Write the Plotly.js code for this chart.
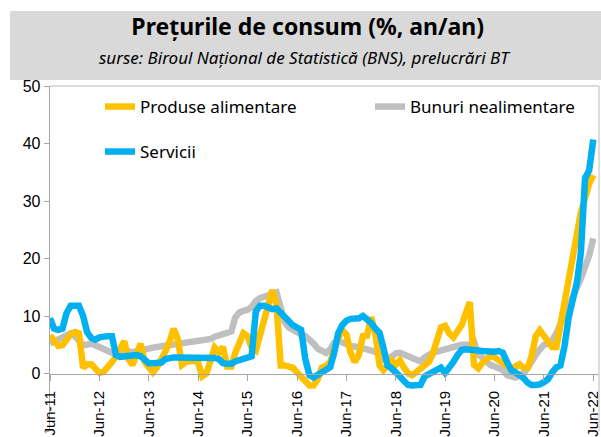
<!DOCTYPE html>
<html><head><meta charset="utf-8">
<script src="https://cdn.plot.ly/plotly-3.0.1.min.js"></script>
<style>html,body{margin:0;padding:0;background:#fff}#chart{width:601px;height:437px}</style>
</head><body><div id="chart"></div>
<script>
// Monthly year-on-year consumer price changes (%), Jun-2011 .. Jun-2022
const firstYear = 2011, firstMonthIndex = 5; // June
const food = [6.6,5.5,4.8,4.9,5.8,6.8,7.2,7.0,1.0,1.6,1.6,0.8,
  0.1,0.3,1.0,2.0,3.0,4.4,5.6,2.5,1.5,3.2,5.2,2.0,
  1.2,0.2,1.1,2.3,3.8,5.5,7.8,6.0,1.5,2.0,2.3,2.3,
  1.8,-0.5,0.0,2.5,4.5,3.7,4.6,1.2,1.2,3.5,5.5,7.0,
  6.5,4.5,4.0,6.8,9.2,12.0,14.5,12.0,1.4,1.4,1.3,1.0,
  0.2,-0.5,-1.2,-2.1,-2.1,-1.0,1.0,1.3,2.0,4.5,6.2,7.5,
  6.8,3.7,2.0,3.2,6.5,6.6,9.8,7.0,1.4,0.6,1.5,2.3,
  1.5,2.3,1.0,0.0,-0.3,0.2,0.9,1.5,2.0,3.4,6.0,8.0,
  8.3,7.0,6.3,7.2,8.4,10.5,12.4,1.5,0.9,1.8,2.5,3.1,
  2.8,2.3,1.8,1.1,0.8,1.2,1.6,1.0,1.0,3.0,6.5,7.5,
  6.5,5.2,4.6,4.6,8.5,13.0,16.5,20.0,23.5,28.0,30.5,33.0,
  34.5];
const nonFood = [5.2,5.6,6.0,6.4,6.8,7.0,6.5,5.6,5.0,5.0,5.2,4.9,
  4.5,4.2,3.8,3.6,3.5,3.6,3.8,3.8,3.7,3.9,4.1,4.3,
  4.4,4.5,4.6,4.7,4.8,4.9,5.0,5.1,5.2,5.3,5.4,5.5,
  5.6,5.7,5.8,6.0,6.4,6.6,6.7,6.9,7.3,9.7,10.6,10.9,
  11.1,11.6,12.6,13.1,13.3,13.7,14.0,14.1,11.5,9.0,8.0,7.5,
  7.0,6.8,6.5,6.0,5.2,4.3,3.8,3.6,4.2,5.3,5.7,5.3,
  5.0,4.8,4.7,4.6,4.4,4.2,4.0,3.8,3.5,2.5,2.7,2.9,
  3.5,3.6,3.3,3.0,2.8,2.4,2.1,2.8,3.3,3.6,3.8,4.0,
  4.3,4.5,4.7,4.9,5.0,5.0,5.0,5.5,3.3,2.8,2.0,1.5,
  1.2,0.8,0.6,-0.3,-0.5,-0.7,-0.3,0.0,1.0,2.3,3.2,4.2,
  5.0,5.2,5.8,7.0,8.7,10.3,11.8,13.2,15.0,16.5,18.5,20.5,
  23.5];
const services = [9.6,7.8,7.6,7.8,10.5,11.8,11.8,11.8,10.0,7.2,6.2,5.9,
  6.3,6.5,6.5,6.5,3.2,2.9,3.0,3.1,3.2,3.2,3.0,2.2,
  1.8,1.8,1.8,1.9,2.5,2.8,2.8,2.8,2.8,2.8,2.8,2.8,
  2.8,2.8,2.8,2.8,2.7,2.5,1.8,1.7,1.7,2.1,2.4,2.6,
  2.7,3.0,10.8,11.8,11.8,11.5,11.2,11.3,10.5,10.0,9.0,8.4,
  8.0,7.6,2.5,-0.3,-0.7,-0.3,0.2,0.8,1.1,3.5,7.0,8.4,
  9.2,9.5,9.5,9.6,10.0,9.5,8.8,7.8,7.1,4.5,1.4,0.9,
  0.3,-0.5,-1.3,-2.0,-2.1,-2.1,-2.0,-0.5,-0.1,0.2,0.6,1.0,
  0.1,0.9,2.0,3.2,4.1,4.2,4.2,4.1,4.0,3.9,3.8,3.8,
  3.8,3.9,3.6,2.0,0.6,0.2,-0.2,-0.8,-1.6,-2.0,-2.0,-1.9,
  -1.5,-1.0,0.2,1.1,1.4,4.9,9.8,12.5,16.0,21.0,34.0,35.3,
  40.7];
const seriesNames = ['Produse alimentare', 'Bunuri nealimentare', 'Servicii'];
const yTickValues = [-10, 0, 10, 20, 30, 40, 50];
const xTickValues = ['2011-06-01','2012-06-01','2013-06-01','2014-06-01','2015-06-01','2016-06-01',
  '2017-06-01','2018-06-01','2019-06-01','2020-06-01','2021-06-01','2022-06-01'];
const xTickLabels = ['Jun-11','Jun-12','Jun-13','Jun-14','Jun-15','Jun-16',
  'Jun-17','Jun-18','Jun-19','Jun-20','Jun-21','Jun-22'];
const titleText = 'Prețurile de consum (%, an/an)';
const subtitleText = 'surse: Biroul Național de Statistică (BNS), prelucrări BT';

const months = food.map((_, i) => {
  const d = new Date(Date.UTC(firstYear, firstMonthIndex + i, 1));
  return d.toISOString().slice(0, 10);
});

const COL = {food: '#FFC000', nonFood: '#BFBFBF', services: '#00B0F0'};
const LW = 6.5;
const traces = [
  {x: months, y: nonFood, name: seriesNames[1], type: 'scatter', mode: 'lines',
   line: {color: COL.nonFood, width: LW}, legend: 'legend2'},
  {x: months, y: food, name: seriesNames[0], type: 'scatter', mode: 'lines',
   line: {color: COL.food, width: LW}, legend: 'legend'},
  {x: months, y: services, name: seriesNames[2], type: 'scatter', mode: 'lines',
   line: {color: COL.services, width: LW}, legend: 'legend3'}
];

const yTickFont = {family: 'Liberation Sans, Arial, sans-serif', size: 16, color: '#000'};
const xTickFont = {family: 'Liberation Sans, Arial, sans-serif', size: 15, color: '#000'};
const legFont = {family: 'Noto Sans, sans-serif', size: 17, color: '#000'};
const legBase = {xanchor: 'left', yanchor: 'middle', bgcolor: 'rgba(0,0,0,0)', borderwidth: 0, font: legFont, orientation: 'v'};

const layout = {
  width: 601, height: 437,
  showlegend: true,
  margin: {l: 50, r: 2, t: 86, b: 6},
  paper_bgcolor: '#fff', plot_bgcolor: '#fff',
  title: {text: '<b>' + titleText + '</b>', font: {family: 'Noto Sans, sans-serif', size: 23, color: '#000'},
          x: 0.512, xref: 'container', xanchor: 'center', y: 1 - 27/437, yref: 'container', yanchor: 'middle'},
  xaxis: {type: 'date', range: ['2011-06-01', '2022-07-13'], anchor: 'free', position: 10/60,
          showline: true, linecolor: '#a6a6a6', linewidth: 1.3, ticks: 'outside', ticklen: 6, tickcolor: '#a6a6a6',
          tickmode: 'array', tickvals: xTickValues, ticktext: xTickLabels, tickangle: -90, tickfont: xTickFont,
          ticklabelstandoff: 4, ticklabeloverflow: 'allow', showgrid: false, zeroline: false, automargin: false, fixedrange: true},
  yaxis: {range: [-10, 50], tickvals: yTickValues, showline: true, linecolor: '#a6a6a6', linewidth: 1.3,
          ticks: 'outside', ticklen: 5, tickcolor: '#a6a6a6', tickfont: yTickFont,
          showgrid: false, zeroline: false, automargin: false, fixedrange: true},
  legend: Object.assign({}, legBase, {x: (100 - 50) / 549, y: (431 - 107) / 345}),
  legend2: Object.assign({}, legBase, {x: (370 - 50) / 549, y: (431 - 107) / 345}),
  legend3: Object.assign({}, legBase, {x: (100 - 50) / 549, y: (431 - 152) / 345}),
  shapes: [
    {type: 'rect', xref: 'paper', yref: 'paper', x0: (10 - 50) / 549, x1: (601 - 50) / 549,
     y0: (431 - 80) / 345, y1: (431 - 11) / 345, fillcolor: '#d9d9d9', line: {width: 0}, layer: 'below'},
    {type: 'line', xref: 'paper', yref: 'paper', x0: 0, x1: 1, y0: 1, y1: 1, line: {color: '#d0d0d0', width: 1.5}},
    {type: 'line', xref: 'paper', yref: 'paper', x0: 1, x1: 1, y0: 0, y1: 1, line: {color: '#d0d0d0', width: 1.5}}
  ],
  annotations: [
    {text: '<i>' + subtitleText + '</i>', xref: 'paper', yref: 'paper', x: (305 - 50) / 549, y: (431 - 58) / 345,
     xanchor: 'center', yanchor: 'middle', showarrow: false,
     font: {family: 'Noto Sans, sans-serif', size: 17, color: '#000'}}
  ]
};

Plotly.newPlot('chart', traces, layout, {displayModeBar: false, staticPlot: true});
</script>
</body></html>
